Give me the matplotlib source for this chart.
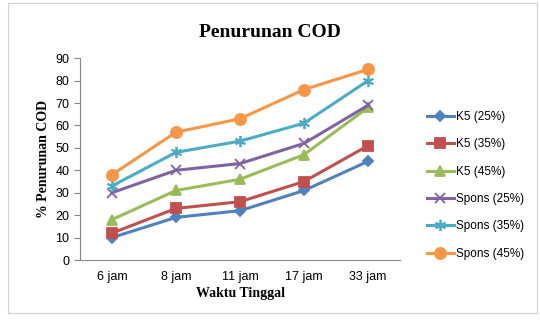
import matplotlib.pyplot as plt
from matplotlib.patches import Rectangle

# Data penurunan COD per waktu tinggal
waktu = ["6 jam", "8 jam", "11 jam", "17 jam", "33 jam"]
k5_25 = [10, 19, 22, 31, 44]
k5_35 = [12, 23, 26, 35, 51]
k5_45 = [18, 31, 36, 47, 68]
spons_25 = [30, 40, 43, 52, 69]
spons_35 = [33, 48, 53, 61, 80]
spons_45 = [38, 57, 63, 76, 85]

series = [
    ("K5 (25%)", k5_25, "#4F81BD", "D", 5),
    ("K5 (35%)", k5_35, "#C0504D", "s", 7),
    ("K5 (45%)", k5_45, "#9BBB59", "^", 7),
    ("Spons (25%)", spons_25, "#8064A2", "x", 7),
    ("Spons (35%)", spons_35, "#4BACC6", (6, 2, 0), 8),
    ("Spons (45%)", spons_45, "#F79646", "o", 8),
]

fig = plt.figure(figsize=(5.4, 3.23), dpi=100)
ax = fig.add_axes([0.148, 0.195, 0.593, 0.625])

x = range(len(waktu))
for label, vals, color, marker, ms in series:
    ax.plot(x, vals, color=color, marker=marker, markersize=ms, linewidth=2.2,
            markeredgewidth=1.3, label=label)

ax.set_xlim(-0.5, len(waktu) - 0.5)
ax.set_ylim(0, 90)
ax.set_yticks(range(0, 91, 10))
ax.set_xticks(list(x))
ax.set_xticklabels(waktu)

for side in ["top", "right"]:
    ax.spines[side].set_visible(False)
for side in ["left", "bottom"]:
    ax.spines[side].set_color("#868686")
ax.tick_params(axis="y", colors="#868686", labelcolor="black", labelsize=9, length=4)
ax.tick_params(axis="x", length=0, labelsize=9, pad=8)
for t in ax.get_xticklabels() + ax.get_yticklabels():
    t.set_family("Liberation Sans")

ax.set_ylabel("% Penurunan COD", family="Liberation Serif", fontweight="bold", fontsize=10)
ax.set_xlabel("Waktu Tinggal", family="Liberation Serif", fontweight="bold", fontsize=10, labelpad=3)
fig.text(0.5, 0.9, "Penurunan COD", ha="center", va="center",
         family="Liberation Serif", fontweight="bold", fontsize=14)

leg = ax.legend(loc="center left", bbox_to_anchor=(1.05, 0.37), frameon=False,
                prop={"family": "Liberation Sans", "size": 8.5}, handlelength=2.3,
                labelspacing=1.3, handletextpad=0.2)

# bingkai area grafik
fig.patches.append(Rectangle((0.015, 0.03), 0.98, 0.96, transform=fig.transFigure,
                             fill=False, edgecolor="#D0D0D0", linewidth=0.8))

fig.savefig("out.png", dpi=100)
